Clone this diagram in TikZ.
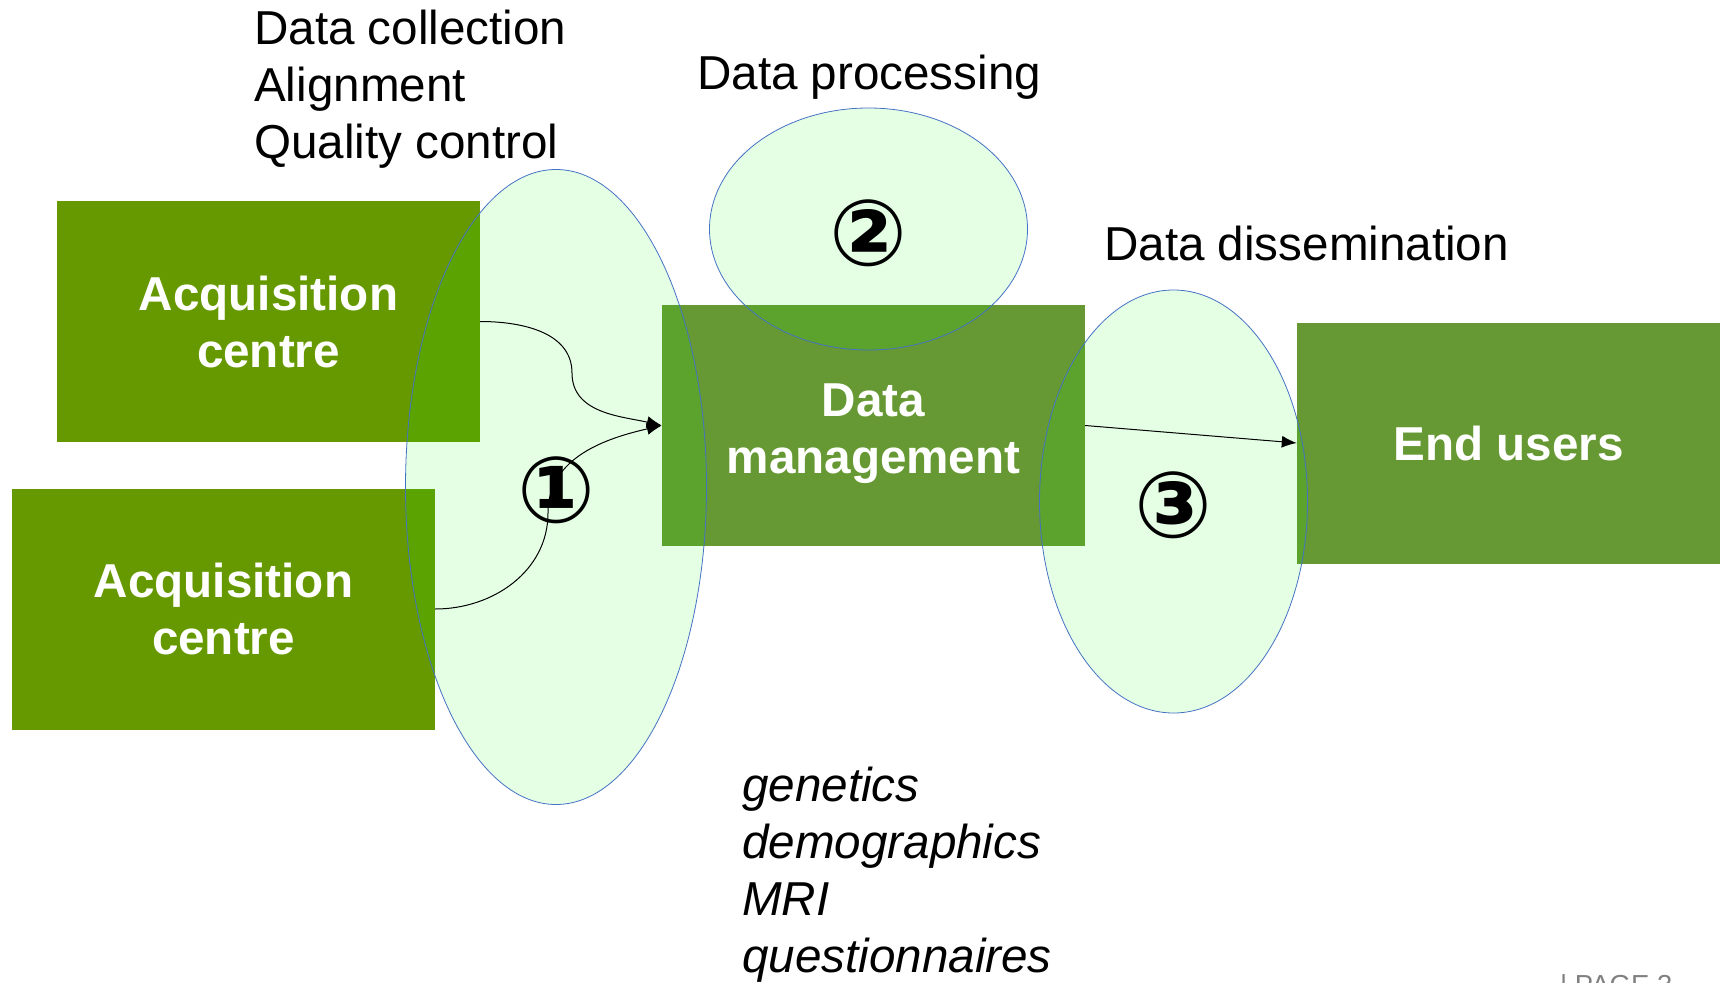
\documentclass[tikz,border=0pt]{standalone}
\usepackage{fontspec}
\setmainfont{Liberation Sans}
\newfontfamily\circfont{DejaVu Sans}
\usepackage{tikz}
\usetikzlibrary{arrows.meta,positioning,shapes.geometric}
\definecolor{acqgreen}{HTML}{669900}
\definecolor{mgmtgreen}{HTML}{669933}
\definecolor{rimblue}{HTML}{4472C4}
\newcommand{\bigfont}{\fontsize{47.6}{57}\selectfont}
\tikzstyle{centre} = [fill=acqgreen,text=white,font=\bigfont\bfseries,minimum width=423pt,minimum height=241pt,inner sep=0pt,align=center]
\tikzstyle{stage} = [centre,fill=mgmtgreen]
\tikzstyle{phase} = [ellipse,draw=rimblue,line width=0.8pt,fill=green,fill opacity=0.1,text opacity=1,inner sep=0pt,font=\circfont\bfseries\fontsize{92}{92}\selectfont]
\tikzstyle{note} = [font=\bigfont,inner sep=0pt,anchor=base west,align=left]
\tikzstyle{feed} = [-{Latex[length=15pt,width=12pt]},line width=1pt]

\begin{document}
\begin{tikzpicture}[x=1pt,y=-1pt]
                  \useasboundingbox (0,0) rectangle (1723,982);
                  \node (acqA)[centre] at (268.5,321.5) {Acquisition\\centre};
                  \node (acqB)[centre] at (223.5,609) {Acquisition\\centre};
                  \node (dm)[stage]    at (873.5,425.5) {\rule{0pt}{50pt}Data\\management};
                  \node (users)[stage] at (1508.5,443) {End users};

                  % the three phases
                  \node (collect)[phase,minimum width=301pt,minimum height=635pt] at (556,487) {\raisebox{-3pt}[\height][\depth]{①}};
                  \node (process)[phase,minimum width=318pt,minimum height=242pt] at (868.5,229) {\raisebox{-4pt}[\height][\depth]{②}};
                  \node (share)[phase,minimum width=268pt,minimum height=423pt]   at (1173.5,501.5) {\raisebox{-4pt}[\height][\depth]{③}};

                  \node (steps)[note]   at (254,158)  {Data collection\\Alignment\\Quality control};
                  \node (proclab)[note] at (697,89)   {Data processing};
                  \node (sharelab)[note] at (1104,260) {Data dissemination};
                  \node (sources)[note,font=\bigfont\itshape] at (742,972) {genetics\\demographics\\MRI\\questionnaires};
                  \node (page)[note,font=\fontsize{27.5}{30}\selectfont,text=gray] at (1560,994) {| PAGE 3};

                  \coordinate (bendA) at (572,373);
                  \coordinate (bendB) at (548,513);
                  \draw[feed] (acqA.east) to[out=0,in=90] (bendA) to[out=-90,in=167] (dm.west);
                  \draw[feed] (acqB.east) to[out=0,in=-90] (bendB) to[out=90,in=193] (dm.west);
                  \draw[feed] (dm.east) -- (users.west);
            \end{tikzpicture}
\end{document}
